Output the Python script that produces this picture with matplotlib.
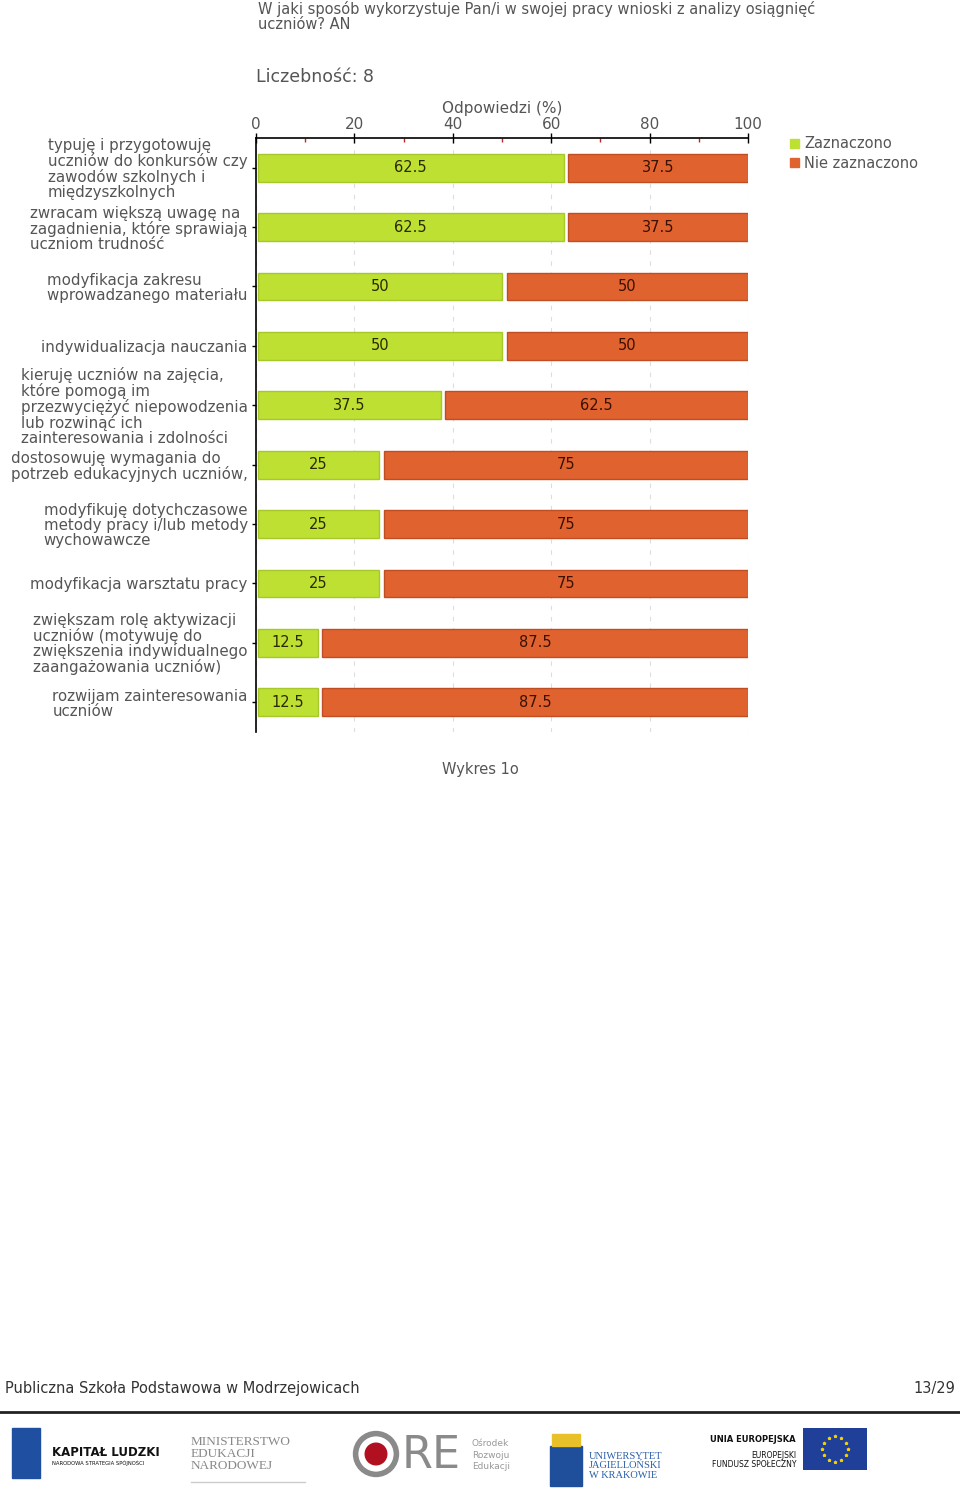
import numpy as np
import matplotlib
matplotlib.use("Agg")
import matplotlib.pyplot as plt
from matplotlib.patches import Rectangle, Circle

# dane z wykresu
kategorie = [
    "typuję i przygotowuję\nuczniów do konkursów czy\nzawodów szkolnych i\nmiędzyszkolnych",
    "zwracam większą uwagę na\nzagadnienia, które sprawiają\nuczniom trudność",
    "modyfikacja zakresu\nwprowadzanego materiału",
    "indywidualizacja nauczania",
    "kieruję uczniów na zajęcia,\nktóre pomogą im\nprzezwyciężyć niepowodzenia\nlub rozwinąć ich\nzainteresowania i zdolności",
    "dostosowuję wymagania do\npotrzeb edukacyjnych uczniów,",
    "modyfikuję dotychczasowe\nmetody pracy i/lub metody\nwychowawcze",
    "modyfikacja warsztatu pracy",
    "zwiększam rolę aktywizacji\nuczniów (motywuję do\nzwiększenia indywidualnego\nzaangażowania uczniów)",
    "rozwijam zainteresowania\nuczniów",
]
zaznaczono = [62.5, 62.5, 50, 50, 37.5, 25, 25, 25, 12.5, 12.5]
nie_zaznaczono = [37.5, 37.5, 50, 50, 62.5, 75, 75, 75, 87.5, 87.5]
serie = ["Zaznaczono", "Nie zaznaczono"]

ZIELONY = "#bde032"
POMARANCZ = "#e0622f"
SZARY = "#555555"

fig = plt.figure(figsize=(9.6, 15), dpi=100)
ax = fig.add_axes([256 / 960, 1 - 732 / 1500, 492 / 960, 594 / 1500])

y = np.arange(len(kategorie))
h = 0.47
z = np.array(zaznaczono)
n = np.array(nie_zaznaczono)

# odstęp między słupkami jak w oryginale
ax.barh(y, z - 0.4, left=0.4, height=h, color=ZIELONY, edgecolor="#a6c82a", linewidth=1, zorder=3)
ax.barh(y, n - 1.0, left=z + 1.0, height=h, color=POMARANCZ, edgecolor="#c04e22", linewidth=1, zorder=3)

for i in range(len(y)):
    ax.text((z[i] + 0.4) / 2, y[i], f"{z[i]:g}", ha="center", va="center",
            fontsize=10.5, color="#2a2a00", zorder=4)
    ax.text(z[i] + 1.0 + (n[i] - 1.0) / 2, y[i], f"{n[i]:g}", ha="center", va="center",
            fontsize=10.5, color="#3a1000", zorder=4)

ax.set_xlim(0, 100)
ax.set_ylim(len(y) - 0.5, -0.5)

ax.xaxis.tick_top()
ax.xaxis.set_label_position("top")
ax.set_xticks([0, 20, 40, 60, 80, 100])
ax.set_xticks([10, 30, 50, 70, 90], minor=True)
ax.tick_params(axis="x", which="major", direction="inout", length=7, width=1, color="black",
               labelsize=11, labelcolor=SZARY, pad=1)
ax.tick_params(axis="x", which="minor", direction="in", length=3, width=1, color="#cc2222")
ax.set_xlabel("Odpowiedzi (%)", fontsize=11, color=SZARY, labelpad=3)

ax.set_yticks(y)
ax.set_yticklabels(kategorie, fontsize=10.8, color=SZARY, linespacing=1.0,
                   multialignment="left")
ax.tick_params(axis="y", length=3, width=1, color="black", pad=3)

ax.grid(axis="x", color="#dddddd", linestyle=(0, (4, 6)), linewidth=0.8, zorder=0)

for s in ["right", "bottom"]:
    ax.spines[s].set_visible(False)
ax.spines["top"].set_linewidth(1.2)
ax.spines["left"].set_linewidth(1.2)

# legenda
fig.patches.append(Rectangle((790 / 960, 1 - 148 / 1500), 9 / 960, 9 / 1500,
                             transform=fig.transFigure, color=ZIELONY))
fig.patches.append(Rectangle((790 / 960, 1 - 167 / 1500), 9 / 960, 9 / 1500,
                             transform=fig.transFigure, color=POMARANCZ))
fig.text(804 / 960, 1 - 144 / 1500, serie[0], fontsize=10.5, color=SZARY, va="center")
fig.text(804 / 960, 1 - 163 / 1500, serie[1], fontsize=10.5, color=SZARY, va="center")

# tytuł
fig.text(258 / 960, 1 - 1 / 1500,
         "W jaki sposób wykorzystuje Pan/i w swojej pracy wnioski z analizy osiągnięć\nuczniów? AN",
         fontsize=10.5, color=SZARY, va="top", linespacing=1.0)
fig.text(256 / 960, 1 - 77 / 1500, "Liczebność: 8", fontsize=12.5, color=SZARY, va="center")
fig.text(480 / 960, 1 - 769 / 1500, "Wykres 1o", fontsize=10.5, color=SZARY,
         ha="center", va="center")

# stopka
fig.text(5 / 960, 1 - 1389 / 1500, "Publiczna Szkoła Podstawowa w Modrzejowicach",
         fontsize=10.5, color="#333333", va="center")
fig.text(955 / 960, 1 - 1389 / 1500, "13/29", fontsize=10.5, color="#333333",
         ha="right", va="center")
fig.add_artist(plt.Line2D([0, 1], [1 - 1412 / 1500] * 2, color="#222222", linewidth=2))

# logotypy (uproszczone)
fig.patches.append(Rectangle((12 / 960, 1 - 1478 / 1500), 28 / 960, 50 / 1500,
                             transform=fig.transFigure, color="#1e4fa0"))
fig.text(52 / 960, 1 - 1452 / 1500, "KAPITAŁ LUDZKI", fontsize=8.5, weight="bold",
         color="#111111", va="center")
fig.text(52 / 960, 1 - 1463 / 1500, "NARODOWA STRATEGIA SPÓJNOŚCI", fontsize=3.8,
         color="#111111", va="center")
fig.text(191 / 960, 1 - 1454 / 1500, "MINISTERSTWO\nEDUKACJI\nNARODOWEJ", fontsize=9.5,
         family="Liberation Serif", color="#888888", va="center", linespacing=0.95)
fig.add_artist(plt.Line2D([191 / 960, 305 / 960], [1 - 1482 / 1500] * 2,
                          color="#cccccc", linewidth=1))
ax_ore = fig.add_axes([352 / 960, 1 - 1478 / 1500, 48 / 960, 48 / 1500])
ax_ore.set_xlim(-1, 1)
ax_ore.set_ylim(-1, 1)
ax_ore.set_aspect("equal")
ax_ore.axis("off")
ax_ore.add_patch(Circle((0, 0), 0.85, fill=False, linewidth=4, edgecolor="#8a8a8a"))
ax_ore.add_patch(Circle((0, 0), 0.45, color="#b01020"))
fig.text(402 / 960, 1 - 1455 / 1500, "RE", fontsize=32, color="#8a8a8a", va="center")
fig.text(472 / 960, 1 - 1455 / 1500, "Ośrodek\nRozwoju\nEdukacji", fontsize=6.5,
         color="#999999", va="center", linespacing=1.4)
fig.patches.append(Rectangle((550 / 960, 1 - 1486 / 1500), 32 / 960, 40 / 1500,
                             transform=fig.transFigure, color="#1f4f9a"))
fig.patches.append(Rectangle((552 / 960, 1 - 1446 / 1500), 28 / 960, 12 / 1500,
                             transform=fig.transFigure, color="#e8c02a"))
fig.text(589 / 960, 1 - 1466 / 1500, "UNIWERSYTET\nJAGIELLOŃSKI\nW KRAKOWIE", fontsize=7.5,
         family="Liberation Serif", color="#2a5fa8", va="center", linespacing=1.05)
fig.text(796 / 960, 1 - 1439 / 1500, "UNIA EUROPEJSKA", fontsize=6, weight="bold",
         color="#111111", ha="right", va="center")
fig.text(796 / 960, 1 - 1460 / 1500, "EUROPEJSKI\nFUNDUSZ SPOŁECZNY", fontsize=5.5,
         color="#111111", ha="right", va="center", multialignment="right", linespacing=1.1)
ax_eu = fig.add_axes([803 / 960, 1 - 1470 / 1500, 64 / 960, 42 / 1500])
ax_eu.set_xlim(-1.5, 1.5)
ax_eu.set_ylim(-1, 1)
ax_eu.set_facecolor("#1f3f99")
ax_eu.set_xticks([])
ax_eu.set_yticks([])
for s in ax_eu.spines.values():
    s.set_visible(False)
kat = np.linspace(0, 2 * np.pi, 13)[:-1]
ax_eu.scatter(0.6 * np.cos(kat), 0.6 * np.sin(kat), s=3, color="#f5d000", marker="*")

fig.savefig("out.png", dpi=100, facecolor="white")
